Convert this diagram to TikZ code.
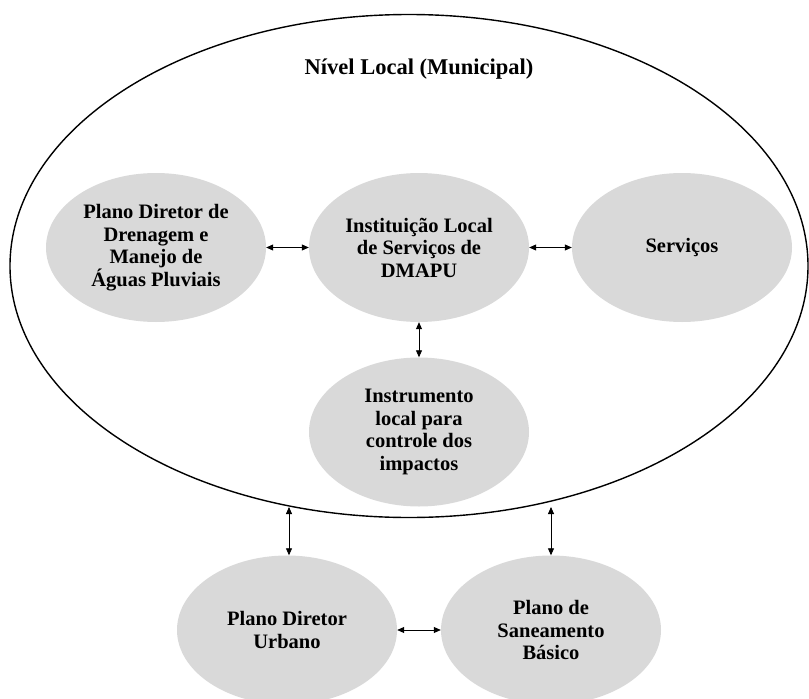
\documentclass[tikz,border=0pt]{standalone}
\usepackage{fontspec}
\setmainfont{Liberation Serif}
\usetikzlibrary{shapes.geometric,arrows.meta}
\definecolor{bubble}{RGB}{217,217,217}
\tikzset{
  bubble/.style={ellipse, fill=bubble, draw=none, minimum width=220pt, minimum height=149pt,
    align=center, inner sep=0pt, font=\fontsize{20.5}{22.5}\selectfont\bfseries},
  link/.style={line width=0.8pt, {Triangle[length=7pt,width=6pt]}-{Triangle[length=7pt,width=6pt]}}
}
\begin{document}
\begin{tikzpicture}[x=1pt,y=-1pt]
\useasboundingbox (0,0) rectangle (809,699);
\node[ellipse, draw, line width=1.4pt, minimum width=798pt, minimum height=503pt, inner sep=0pt] (outer) at (409,266) {};
\node[font=\fontsize{22.5}{24}\selectfont\bfseries] (title) at (419,69) {Nível Local (Municipal)};
\node[bubble] (pdd) at (156,247.5) {Plano Diretor de\\Drenagem e\\Manejo de\\Águas Pluviais};
\node[bubble] (inst) at (419,247.5) {Instituição Local\\de Serviços de\\DMAPU};
\node[bubble] (serv) at (682,247.5) {Serviços};
\node[bubble] (instr) at (419,432) {Instrumento\\local para\\controle dos\\impactos};
\node[bubble] (pdu) at (287,630) {Plano Diretor\\Urbano};
\node[bubble] (psb) at (551,630) {Plano de\\Saneamento\\Básico};
\coordinate (e1) at (289,507);
\coordinate (e2) at (551,507);
\draw[link] (pdd.east) -- (inst.west);
\draw[link] (inst.east) -- (serv.west);
\draw[link] (inst.south) -- (instr.north);
\draw[link] (e1) -- (e1 |- pdu.north);
\draw[link] (e2) -- (e2 |- psb.north);
\draw[link] (pdu.east) -- (psb.west);
\end{tikzpicture}
\end{document}
